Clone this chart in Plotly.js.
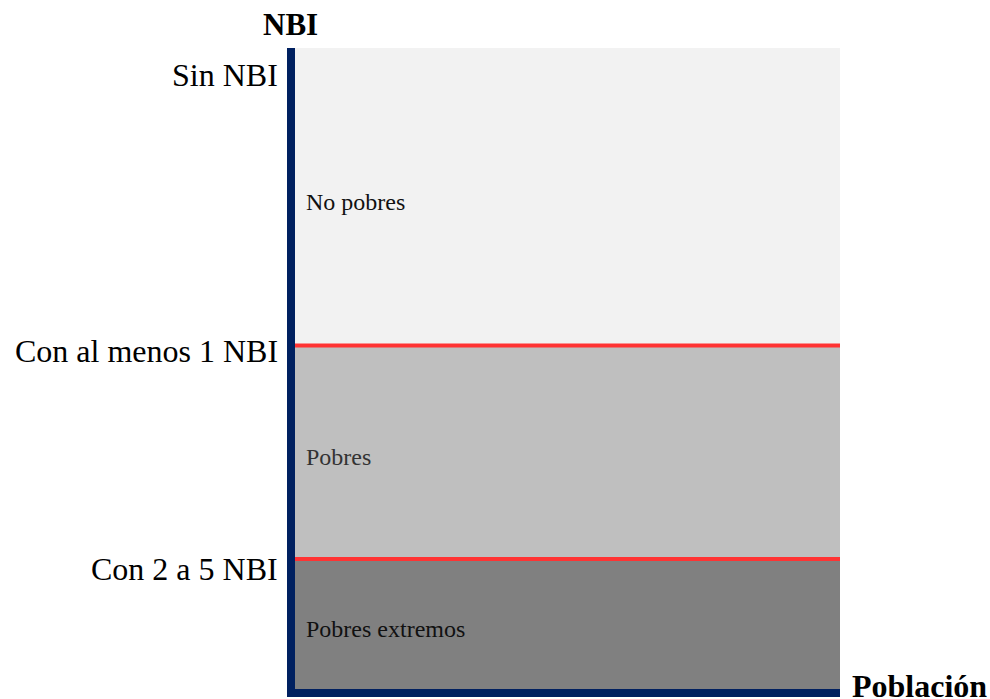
<!DOCTYPE html>
<html><head><meta charset="utf-8">
<script src="https://cdn.plot.ly/plotly-3.0.1.min.js"></script>
<style>html,body{margin:0;padding:0;background:#fff;}</style>
</head><body>
<div id="chart" style="width:990px;height:699px;"></div>
<script>
// Share of population in each NBI band (bottom to top)
const bandNames = ["Pobres extremos", "Pobres", "No pobres"];
const bandShares = [20.3, 33.3, 46.4];
const bandColors = ["#808080", "#bfbfbf", "#f2f2f2"];
// Boundary labels on the NBI axis (bottom to top)
const boundaryLabels = ["Con 2 a 5 NBI", "Con al menos 1 NBI", "Sin NBI"];

const FONT = "Liberation Serif, Times New Roman, serif";
const total = bandShares.reduce((a, b) => a + b, 0);
const cum = [];
let acc = 0;
bandShares.forEach(v => { acc += v; cum.push(acc); });
const bottoms = cum.map((c, i) => c - bandShares[i]);

const traces = bandShares.map((v, i) => ({
  type: "bar", x: [0.5], y: [v], width: [1], name: bandNames[i],
  marker: {color: bandColors[i], line: {width: 0}},
  hoverinfo: "skip", showlegend: false
}));
// red separator lines at the two internal boundaries
[0, 1].forEach(i => {
  traces.push({
    type: "scatter", mode: "lines", x: [0, 1], y: [cum[i], cum[i]],
    line: {color: "#ff3333", width: 4}, hoverinfo: "skip", showlegend: false
  });
});

const annotations = [];
bandNames.forEach((n, i) => {
  annotations.push({
    xref: "x", yref: "y", x: 0, y: bottoms[i] + bandShares[i] / 2,
    xanchor: "left", yanchor: "middle", xshift: 9, yshift: -5,
    text: n, showarrow: false,
    font: {family: FONT, size: 24, color: i === 1 ? "#333" : "#111"}
  });
});
const labelY = [cum[0], cum[1], cum[2]];
const labelShift = [-10, -6, -27];
boundaryLabels.forEach((t, i) => {
  annotations.push({
    xref: "paper", yref: "y", x: 0, y: labelY[i],
    xanchor: "right", yanchor: "middle", xshift: -15, yshift: labelShift[i],
    text: t, showarrow: false,
    font: {family: FONT, size: 32, color: "#000"}
  });
});
annotations.push({
  xref: "paper", yref: "paper", x: 0, y: 1, xanchor: "center", yanchor: "bottom",
  xshift: -5, yshift: 4, text: "<b>NBI</b>", showarrow: false,
  font: {family: FONT, size: 31, color: "#000"}
});
annotations.push({
  xref: "paper", yref: "paper", x: 1, y: 0, xanchor: "left", yanchor: "middle",
  xshift: 10, yshift: 3, text: "<b>Población</b>", showarrow: false,
  font: {family: FONT, size: 32, color: "#000"}
});

const layout = {
  width: 990, height: 699,
  margin: {l: 295, r: 150, t: 48, b: 10, pad: 0},
  paper_bgcolor: "#ffffff", plot_bgcolor: "#ffffff",
  barmode: "stack", bargap: 0,
  showlegend: false,
  xaxis: {range: [0, 1], showgrid: false, zeroline: false, showticklabels: false,
          ticks: "", showline: true, linecolor: "#002060", linewidth: 8, fixedrange: true},
  yaxis: {range: [0, total], showgrid: false, zeroline: false, showticklabels: false,
          ticks: "", showline: true, linecolor: "#002060", linewidth: 8, fixedrange: true},
  annotations: annotations
};
Plotly.newPlot("chart", traces, layout, {displayModeBar: false, staticPlot: true});
</script>
</body></html>
